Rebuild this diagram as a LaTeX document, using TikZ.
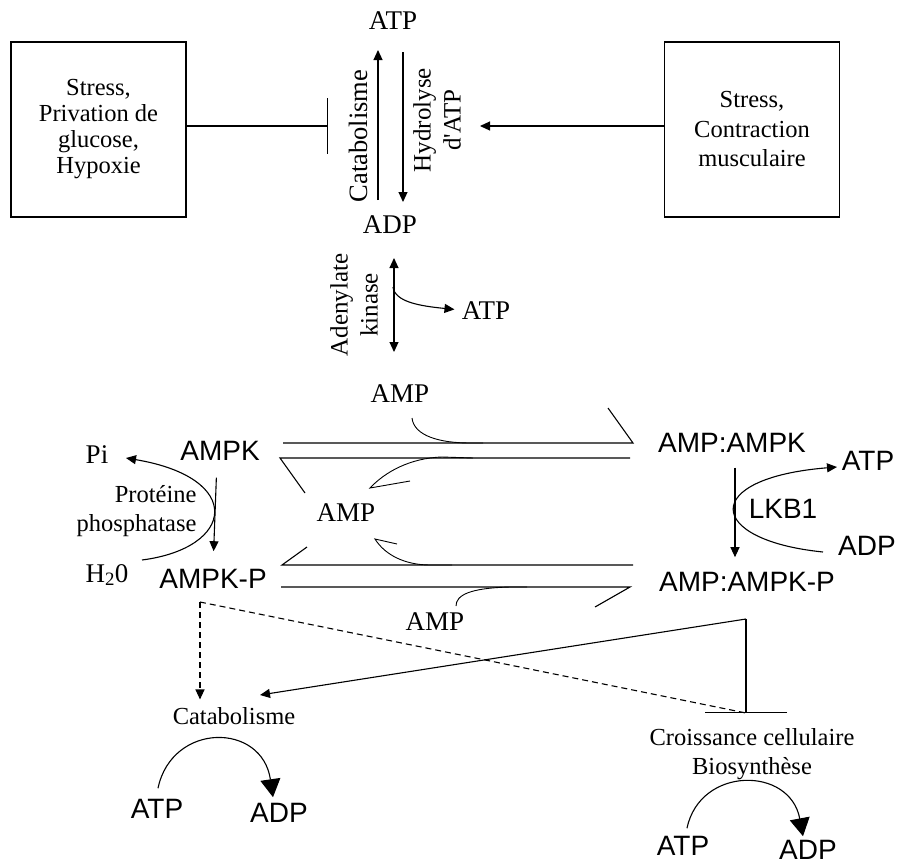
\documentclass[tikz,border=0pt]{standalone}
\usepackage{fontspec}
\setmainfont{Liberation Serif}
\setsansfont{Liberation Sans}
\usetikzlibrary{arrows.meta}
\usetikzlibrary{positioning}

\tikzset{
  stimbox/.style={draw, rectangle, minimum width=175pt, minimum height=175pt, align=center, inner sep=0pt},
  serlab/.style={font=\fontsize{27}{30}\selectfont, inner sep=0pt},
  sanslab/.style={font=\sffamily\fontsize{28}{30}\selectfont, inner sep=0pt},
  txtlab/.style={font=\fontsize{24.5}{29}\selectfont, inner sep=0pt},
  rotlab/.style={font=\fontsize{25}{30}\selectfont, inner sep=0pt, rotate=90, align=center},
  bigtip/.style={-{Triangle[length=18pt,width=20pt]}},
  dsh/.style={dash pattern=on 6pt off 4pt}
}

\begin{document}
\begin{tikzpicture}[x=1pt, y=-1pt, line width=1.1pt, >={Triangle[length=10pt,width=9pt]}]
            \useasboundingbox (0,0) rectangle (898,868);
            % stimuli
            \node[stimbox, font=\fontsize{24.5}{26}\selectfont] (stressL) at (98.5,129.5) {Stress,\\Privation de\\glucose,\\Hypoxie};
            \node[stimbox, font=\fontsize{24.5}{29.5}\selectfont] (stressR) at (752,129.5) {Stress,\\Contraction\\musculaire};
            
            % ATP / ADP
            \node[serlab, anchor=base] (atpT) at (393,29) {ATP};
            \node[serlab, anchor=base] (adpT) at (390,233) {ADP};
            \node[rotlab, font=\fontsize{26.5}{30}\selectfont] (catR) at (358,136) {Catabolisme};
            \node[rotlab] (hydR) at (437,120) {Hydrolyse\\d\textquotesingle ATP};
            \coordinate (catS) at (378,200);
            \coordinate (catE) at (378,50);
            \coordinate (hydS) at (403,52);
            \coordinate (hydE) at (403,202);
            \coordinate (inhT) at (328,126);
            \coordinate (actT) at (480,126);
            \draw[->] (catS) -- (catE);
            \draw[->] (hydS) -- (hydE);
            \draw[-{Bar[width=56pt]}] (stressL.east |- inhT) -- (inhT);
            \draw[->] (stressR.west |- actT) -- (actT);
            
            % adenylate kinase
            \node[rotlab] (akL) at (354,305) {Adenylate\\kinase};
            \node[serlab, anchor=base] (atpK) at (486,319) {ATP};
            \coordinate (akT) at (394,258);
            \coordinate (akB) at (394,352);
            \coordinate (akM) at (393,287);
            \draw[<->] (akT) -- (akB);
            \draw[->, shorten >=7pt] (akM) .. controls (395,302) and (420,306) .. (atpK.west);
            
            % AMPK states
            \node[serlab, anchor=base] (ampT) at (400,402) {AMP};
            \node[serlab, anchor=base] (ampM) at (346,521) {AMP};
            \node[serlab, anchor=base] (ampB) at (435,630) {AMP};
            \node[sanslab, anchor=base] (ampk) at (220,460) {AMPK};
            \node[sanslab, anchor=base] (ampkp) at (213,588) {AMPK-P};
            \node[sanslab, anchor=base] (ampc) at (732,452) {AMP:AMPK};
            \node[sanslab, anchor=base] (ampcp) at (747,591) {AMP:AMPK-P};
            \node[sanslab, anchor=base] (lkb) at (783,518) {LKB1};
            \node[sanslab, anchor=base] (atpR) at (868,470) {ATP};
            \node[sanslab, anchor=base] (adpR) at (867,555) {ADP};
            \node[serlab, anchor=base] (pi) at (97,463) {Pi};
            \node[serlab, anchor=base west] (h2o) at (85,582) {H\textsubscript{2}0};
            \node[txtlab, align=right, anchor=east] (ppase) at (197,511) {Protéine\\phosphatase};
            
            \draw[->, shorten <=17pt, shorten >=17pt] ([xshift=-3pt]ampk.south) -- (ampkp.north);
            \draw[->, shorten <=15pt, shorten >=14pt] ([xshift=3pt]ampc.south) -- ([xshift=3pt]ampc.south |- ampcp.north);
            \coordinate (ppS) at (142,560);
            \coordinate (ppE) at (126,458);
            \draw[->] (ppS) .. controls (235,548) and (245,478) .. (ppE);
            \coordinate (lkS) at (823,552);
            \coordinate (lkE) at (837,467);
            \draw[->] (lkS) .. controls (705,540) and (700,478) .. (lkE);
            
            % equilibria
            \draw (283,443) -- (633,443) -- (608,408);
            \draw (305,493) -- (280,458) -- (630,458);
            \draw (307,547) -- (282,565) -- (633,565);
            \draw (281,587) -- (630,587) -- (595,607);
            \draw[line width=0.9pt] (412,418) .. controls (414,436) and (440,443) .. (470,443) -- (483,443);
            \draw[line width=0.9pt] (473,458) -- (442,457) .. controls (410,458) and (385,472) .. (370,488) -- (410,481);
            \draw[line width=0.9pt] (397,544) -- (375,539) .. controls (385,555) and (405,565) .. (430,565) -- (452,565);
            \draw[line width=0.9pt] (456,606) .. controls (456,595) and (470,588) .. (510,587) -- (527,587);
            
            % effects
            \node[txtlab, anchor=base] (cata) at (234,724) {Catabolisme};
            \node[txtlab, anchor=north, align=center] (croiss) at (752,728) {Croissance cellulaire\\Biosynthèse};
            \coordinate (dsplit) at (200,602);
            \coordinate (splitC) at (746,619);
            \coordinate (catIn) at (260,695);
            \coordinate (inhC) at (746,713);
            \draw[dsh, ->, shorten >=7pt] (dsplit) -- (dsplit |- cata.north);
            \draw[dsh] (dsplit) -- (inhC);
            \draw[->] (splitC) -- (catIn);
            \draw[-{Bar[width=82pt]}] (splitC) -- (inhC);
            
            % ATP consumption
            \node[sanslab, anchor=base] (atpBL) at (157,818) {ATP};
            \node[sanslab, anchor=base] (adpBL) at (279,822) {ADP};
            \node[sanslab, anchor=base] (atpBR) at (683,855) {ATP};
            \node[sanslab, anchor=base] (adpBR) at (808,859) {ADP};
            \draw[bigtip] ([xshift=1pt,yshift=10pt]atpBL.north) .. controls (172,722) and (262,722) .. ([xshift=-6pt,yshift=5pt]adpBL.north);
            \draw[bigtip] ([xshift=4pt,yshift=7pt]atpBR.north) .. controls (700,766) and (790,766) .. ([xshift=-5pt,yshift=3pt]adpBR.north);
        \end{tikzpicture}
\end{document}
